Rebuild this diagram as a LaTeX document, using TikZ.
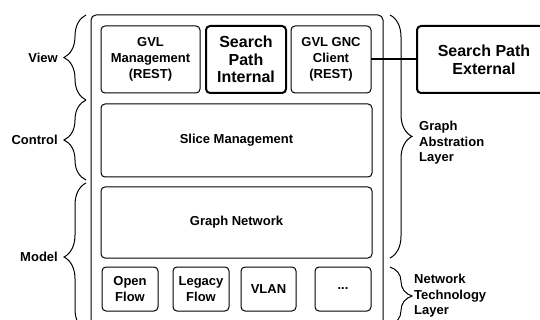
\documentclass[tikz,border=0pt]{standalone}
\usepackage{fontspec}
\setmainfont{Liberation Sans}
\usetikzlibrary{positioning,decorations.pathreplacing}

\begin{document}
\begin{tikzpicture}[x=1pt,y=-1pt,
	box/.style={draw,rounded corners=4pt,line width=1pt,inner sep=0pt,outer sep=0pt,align=center,
		font=\fontsize{13}{16}\selectfont\bfseries},
	bigbox/.style={box,line width=2pt,font=\fontsize{16}{17.5}\selectfont\bfseries},
	lbl/.style={inner sep=0pt,align=left,font=\fontsize{13}{15.5}\selectfont\bfseries},
	brc/.style={decorate,decoration={brace,amplitude=22pt},line width=1pt}]
	\clip (0,0) rectangle (540,320);

	\node[draw,rounded corners=5pt,line width=1pt,minimum width=292pt,minimum height=330pt] (outer) at (237,180) {};

	\node[box, minimum width=99pt, minimum height=67pt]    (gvl)    at (150.5,59.5)       {GVL\\Management\\(REST)};
	\node[bigbox, minimum width=80pt, minimum height=67pt] (spi)    [right=6pt of gvl]    {Search\\Path\\Internal};
	\node[box, minimum width=80pt, minimum height=67pt]    (gnc)    [right=5pt of spi]    {GVL GNC\\Client\\(REST)};
	\node[bigbox, minimum width=134pt, minimum height=67pt,font=\fontsize{16}{18}\selectfont\bfseries]
	                                                       (spe)    at (484,59.5)         {Search Path\\External};
	\node[box, minimum width=271pt, minimum height=73pt]   (slice)  at (236.5,140.5)      {Slice Management};
	\node[box, minimum width=271pt, minimum height=71pt]   (graph)  at (236.5,222.5)      {Graph Network};
	\node[box, minimum width=56pt, minimum height=44pt]    (open)   at (130,289)          {Open\\Flow};
	\node[box, minimum width=56pt, minimum height=44pt]    (legacy) [right=15pt of open]  {Legacy\\Flow};
	\node[box, minimum width=55pt, minimum height=44pt]    (vlan)   [right=12pt of legacy]{VLAN};
	\node[box, minimum width=56pt, minimum height=44pt]    (dots)   [right=19pt of vlan]  {...};

	\draw[line width=2pt] (gnc) -- (spe);

	\draw[brc] (86,100) -- (86,15);
	\draw[brc] (86,180) -- (86,100);
	\draw[brc] (86,331) -- (86,183);
	\draw[brc] (390,15) -- (390,258);
	\draw[brc] (390,267) -- (390,325);

	\node[lbl, anchor=east] (view)    at (58,58)   {View};
	\node[lbl, anchor=east] (control) at (58,140)  {Control};
	\node[lbl, anchor=east] (model)   at (58,257)  {Model};
	\node[lbl, anchor=west] (gal)     at (419,143) {Graph\\Abstration\\Layer};
	\node[lbl, anchor=west] (ntl)     at (414,296) {Network\\Technology\\Layer};
\end{tikzpicture}
\end{document}
